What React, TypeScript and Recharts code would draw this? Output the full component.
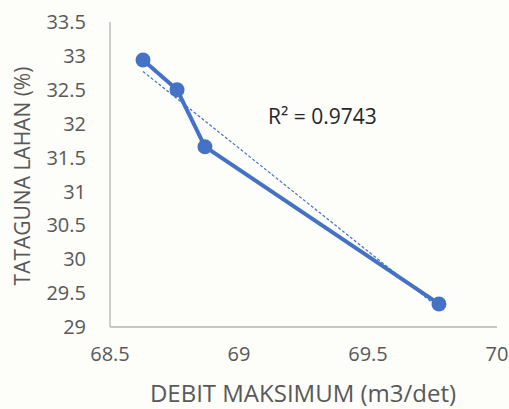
import { ScatterChart, Scatter, XAxis, YAxis, Label } from 'recharts'

// debit maksimum (m3/det) vs tataguna lahan (%)
const debit = [68.628, 68.76, 68.868, 69.775]
const lahan = [32.94, 32.5, 31.66, 29.34]

// linear trendline end points
const trendX = [68.628, 69.775]
const trendY = [32.77, 29.28]

const xTicks = [68.5, 69, 69.5, 70]
const yTicks = [29, 29.5, 30, 30.5, 31, 31.5, 32, 32.5, 33, 33.5]

const R2_TEXT = 'R² = 0.9743'
const X_TITLE = 'DEBIT MAKSIMUM (m3/det)'
const Y_TITLE = 'TATAGUNA LAHAN (%)'

const BLUE = '#4472c4'
const GREY = '#595959'
const FONT = '"Open Sans", sans-serif'

const points = debit.map((x, i) => ({ x, y: lahan[i] }))
const trend = trendX.map((x, i) => ({ x, y: trendY[i] }))

const Dot = (props: any) => <circle cx={props.cx} cy={props.cy} r={7.5} fill={BLUE} />
const NoDot = () => null

export default function App() {
  return (
    <div style={{ position: 'absolute', left: 0, top: 0, width: 509, height: 409, background: '#fdfdfa', fontFamily: FONT }}>
      <ScatterChart width={509} height={409} margin={{ top: 22, right: 12, bottom: 22, left: 0 }}>
        <XAxis
          type="number"
          dataKey="x"
          domain={[68.5, 70]}
          ticks={xTicks}
          allowDataOverflow
          height={60}
          tickLine={false}
          tickSize={0}
          tickMargin={20}
          axisLine={{ stroke: '#b4b4b4', strokeWidth: 1.3 }}
          tick={{ fill: GREY, fontSize: 20, fontFamily: FONT }}
        >
          <Label
            content={() => (
              <text x={303} y={402} textAnchor="middle" fill={GREY} fontSize={24} fontFamily={FONT}>
                {X_TITLE}
              </text>
            )}
          />
        </XAxis>
        <YAxis
          type="number"
          dataKey="y"
          domain={[29, 33.5]}
          ticks={yTicks}
          allowDataOverflow
          width={110}
          tickLine={false}
          tickSize={0}
          tickMargin={24}
          axisLine={{ stroke: '#b4b4b4', strokeWidth: 1.3 }}
          tick={{ fill: GREY, fontSize: 20, fontFamily: FONT }}
        >
          <Label
            content={() => (
              <text
                x={22}
                y={176}
                transform="rotate(-90 22 176)"
                textAnchor="middle"
                dominantBaseline="central"
                fill={GREY}
                fontSize={21}
                fontFamily={FONT}
              >
                {Y_TITLE}
              </text>
            )}
          />
        </YAxis>
        <Scatter
          data={points}
          line={{ stroke: BLUE, strokeWidth: 4 }}
          lineType="joint"
          shape={Dot}
          isAnimationActive={false}
        />
        <Scatter
          data={trend}
          line={{ stroke: BLUE, strokeWidth: 1.2, strokeDasharray: '3 2' }}
          lineType="joint"
          shape={NoDot}
          isAnimationActive={false}
        />
      </ScatterChart>
      <div style={{ position: 'absolute', left: 268, top: 101, fontSize: 21, color: '#262626', whiteSpace: 'nowrap', lineHeight: '30px' }}>
        {R2_TEXT}
      </div>
    </div>
  )
}
